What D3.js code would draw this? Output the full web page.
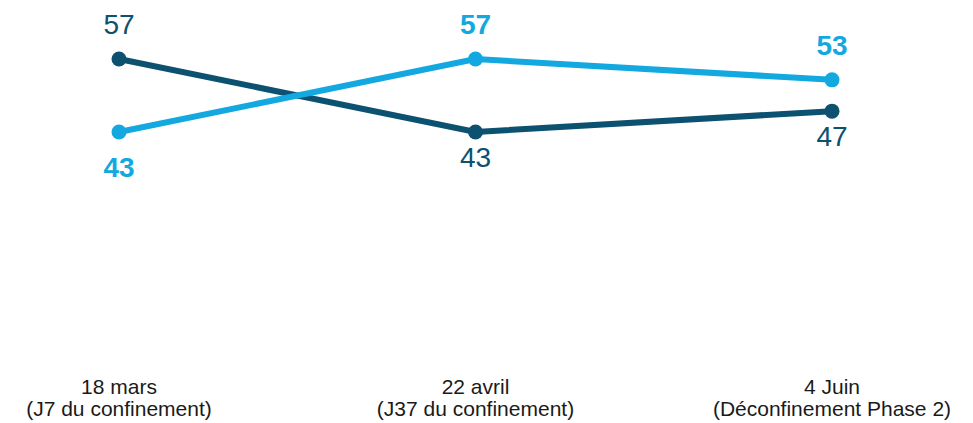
<!DOCTYPE html>
<html>
<head>
<meta charset="utf-8">
<script src="https://cdn.jsdelivr.net/npm/d3@7"></script>
<style>
  body { margin: 0; background: #fff; }
  svg { display: block; font-family: "Liberation Sans", Arial, sans-serif; }
</style>
</head>
<body>
<svg id="chart" width="973" height="423"></svg>
<script>
const dates = ["18 mars", "22 avril", "4 Juin"];
const subtitles = ["(J7 du confinement)", "(J37 du confinement)", "(Déconfinement Phase 2)"];
const darkValues = [57, 43, 47];
const lightValues = [43, 57, 53];

const svg = d3.select("#chart");

const x = d3.scalePoint()
    .domain(dates)
    .range([119, 832]);

const y = d3.scaleLinear()
    .domain([43, 57])
    .range([132, 59]);

const series = [
    { name: "dark", values: darkValues, color: "#0c5170", weight: "normal" },
    { name: "light", values: lightValues, color: "#14a8e0", weight: "bold" }
];

const line = d3.line()
    .x(d => x(d.date))
    .y(d => y(d.value));

series.forEach(s => {
    const other = series.find(o => o !== s);
    const pts = s.values.map((v, i) => ({ date: dates[i], value: v, above: v >= other.values[i] }));
    const g = svg.append("g").attr("class", "series-" + s.name);

    g.append("path")
        .datum(pts)
        .attr("fill", "none")
        .attr("stroke", s.color)
        .attr("stroke-width", 6)
        .attr("d", line);

    g.selectAll("circle")
        .data(pts)
        .join("circle")
        .attr("cx", d => x(d.date))
        .attr("cy", d => y(d.value))
        .attr("r", 7.5)
        .attr("fill", s.color);

    // labels above the higher point, below the lower one
    g.selectAll("text")
        .data(pts)
        .join("text")
        .attr("x", d => x(d.date))
        .attr("y", d => y(d.value) + (d.above ? -25 : (s.name === "light" ? 45 : 35)))
        .attr("text-anchor", "middle")
        .attr("font-size", 28)
        .attr("font-weight", s.weight)
        .attr("fill", s.color)
        .text(d => d.value);
});

// Axis labels
const axis = svg.append("g").attr("class", "x-axis");
axis.selectAll("text")
    .data(dates)
    .join("text")
    .attr("x", d => x(d))
    .attr("text-anchor", "middle")
    .attr("font-size", 21)
    .attr("fill", "#1a1a1a")
    .each(function(d, i) {
        const t = d3.select(this);
        t.append("tspan").attr("x", x(d)).attr("y", 394).text(d);
        t.append("tspan").attr("x", x(d)).attr("y", 416).text(subtitles[i]);
    });
</script>
</body>
</html>
